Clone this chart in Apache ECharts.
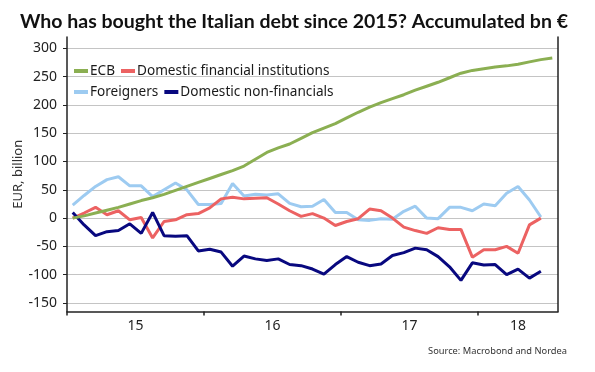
<!DOCTYPE html>
<html>
<head>
<meta charset="utf-8">
<script src="https://cdn.jsdelivr.net/npm/echarts@6/dist/echarts.min.js"></script>
<style>
html,body{margin:0;padding:0;background:#fff;}
#chart{width:595px;height:372px;}
</style>
</head>
<body>
<div id="chart"></div>
<script>
// Monthly observations, Jan 2015 onwards (index 0 = Jan 2015)
const monthCount = 43; // Jan 2015 .. Jul 2018
const yearLabels = ['15', '16', '17', '18'];
const yearStartIndex = [0, 12, 24, 36];
const yTickValues = [-150, -100, -50, 0, 50, 100, 150, 200, 250, 300];

const ecb = [0, 4, 9, 14, 19, 25, 31, 36, 42, 49, 56, 63, 70, 77, 84, 92, 104, 116, 124, 131,
  141, 151, 159, 167, 177, 187, 196, 204, 211, 218, 226, 233, 240, 248, 256, 261, 264, 267, 269, 272,
  276, 280, 283];
const domesticFinancial = [0, 9, 19, 6, 13, -3, 1, -35, -6, -3, 6, 8, 18, 34, 37, 34, 35, 36, 25, 13,
  3, 8, 0, -13, -6, -1, 16, 13, 0, -16, -22, -27, -17, -20, -20, -69, -56, -56, -50, -62,
  -12, 0];
const foreigners = [23, 40, 56, 68, 73, 57, 57, 38, 50, 62, 50, 24, 24, 26, 61, 39, 42, 41, 43, 26,
  20, 21, 33, 10, 10, -3, -4, -1, -2, 12, 21, 0, -1, 19, 19, 13, 25, 22, 44, 56,
  32, 2];
const domesticNonFinancial = [10, -12, -31, -24, -22, -10, -27, 10, -31, -32, -31, -58, -55, -60, -85, -67, -72, -75, -72, -82,
  -84, -90, -99, -82, -68, -78, -84, -81, -66, -61, -53, -56, -68, -86, -110, -79, -83, -82, -100, -90,
  -106, -94];

const seriesNames = ['ECB', 'Domestic financial institutions', 'Foreigners', 'Domestic non-financials'];
const colors = {
  'ECB': '#8BAF52',
  'Domestic financial institutions': '#EC6262',
  'Foreigners': '#9DCBF1',
  'Domestic non-financials': '#08087F'
};

// year label positions: centre of each (possibly partial) year on the axis
const yearCenters = yearStartIndex.map((s, k) => {
  const e = k + 1 < yearStartIndex.length ? yearStartIndex[k + 1] : monthCount;
  return (s + e) / 2;
});

function toPoints(arr) { return arr.map((v, i) => [i + 0.5, v]); }

const font = 'Noto Sans, sans-serif';
const chart = echarts.init(document.getElementById('chart'), null, { renderer: 'canvas' });

function mk(name, data) {
  return {
    name: name, type: 'line', data: toPoints(data),
    showSymbol: false, symbol: 'none', smooth: false,
    lineStyle: { width: 3, color: colors[name] },
    itemStyle: { color: colors[name] },
    emphasis: { disabled: true }
  };
}

const legendCommon = {
  left: 69, icon: 'rect', itemWidth: 14, itemHeight: 4, itemGap: 6,
  textStyle: { fontFamily: font, fontSize: 13.6, color: '#1a1a1a', padding: [0, 0, 0, -3] },
  selectedMode: false
};

chart.setOption({
  animation: false,
  backgroundColor: '#ffffff',
  title: [
    { text: 'Who has bought the Italian debt since 2015? Accumulated bn €', left: 15, top: 7,
      textStyle: { fontFamily: 'Lato, sans-serif', fontWeight: 'bold', fontSize: 19.5, color: '#111' } },
    { text: 'Source: Macrobond and Nordea', right: 23, top: 342,
      textStyle: { fontFamily: font, fontWeight: 'normal', fontSize: 9.3, color: '#333' } }
  ],
  legend: [
    Object.assign({ top: 59, data: [seriesNames[0], seriesNames[1]] }, legendCommon),
    Object.assign({ top: 80, data: [seriesNames[2], seriesNames[3]] }, legendCommon)
  ],
  grid: { left: 67, right: 37, top: 37, bottom: 60.5, containLabel: false, outerBoundsMode: 'none' },
  xAxis: {
    type: 'value', min: 0, max: monthCount,
    axisLine: { show: true, onZero: false, lineStyle: { color: '#222', width: 1.5 } },
    axisTick: { show: true, customValues: yearStartIndex, length: 4, lineStyle: { color: '#222', width: 1.5 } },
    axisLabel: {
      customValues: yearCenters, margin: 8,
      formatter: function (v) { const k = yearCenters.indexOf(v); return k >= 0 ? yearLabels[k] : ''; },
      fontFamily: font, fontSize: 14, color: '#222'
    },
    splitLine: { show: false }
  },
  yAxis: [
    {
      type: 'value', min: -165, max: 320, position: 'left',
      name: 'EUR, billion', nameLocation: 'middle', nameGap: 42, nameMoveOverlap: false,
      nameTextStyle: { fontFamily: font, fontSize: 13, color: '#333' },
      axisLine: { show: true, onZero: false, lineStyle: { color: '#222', width: 1.5 } },
      axisTick: { show: true, customValues: yTickValues, length: 4, lineStyle: { color: '#222' } },
      axisLabel: { customValues: yTickValues, margin: 10, fontFamily: font, fontSize: 14, color: '#222' },
      splitLine: { show: true, lineStyle: { color: '#c4c4c4', width: 1 } }
    },
    {
      type: 'value', min: -165, max: 320, position: 'right',
      axisLine: { show: true, onZero: false, lineStyle: { color: '#222', width: 1.5 } },
      axisTick: { show: false }, axisLabel: { show: false }, splitLine: { show: false }
    }
  ],
  series: [
    mk('Foreigners', foreigners),
    mk('Domestic financial institutions', domesticFinancial),
    mk('Domestic non-financials', domesticNonFinancial),
    mk('ECB', ecb)
  ]
});
</script>
</body>
</html>
